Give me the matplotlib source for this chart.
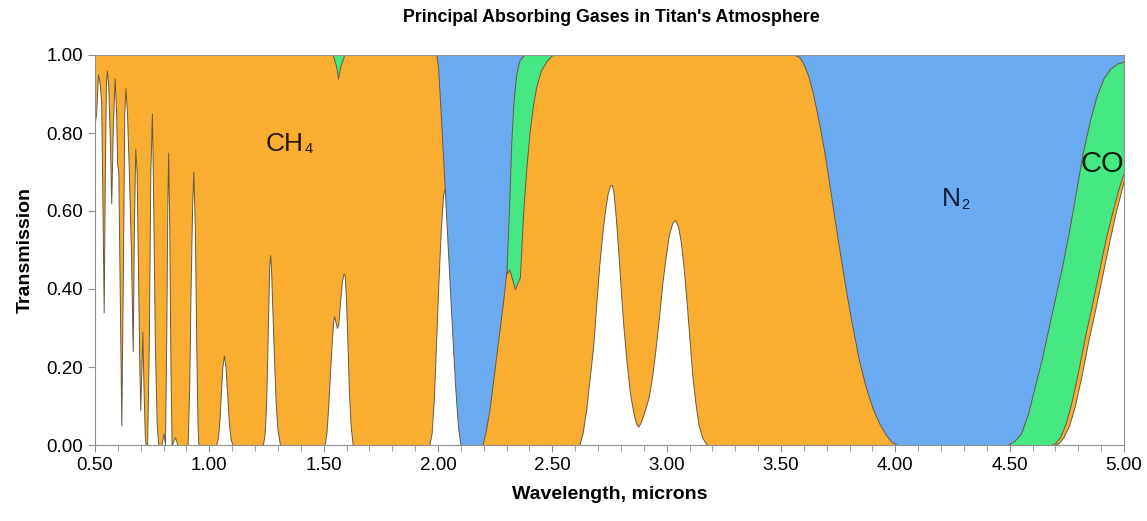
import matplotlib
matplotlib.use('Agg')
import matplotlib.pyplot as plt
from matplotlib.ticker import MultipleLocator, FormatStrFormatter

plt.rcParams['font.family'] = ['Liberation Sans', 'DejaVu Sans']

# CH4 transmission (wavelength in microns, transmission)
ch4_wl = [0.500, 0.505, 0.513, 0.520, 0.527, 0.533, 0.538, 0.543, 0.548, 0.552,
          0.558, 0.565, 0.571, 0.578, 0.586, 0.592, 0.597, 0.602, 0.608, 0.615,
          0.622, 0.628, 0.633, 0.640, 0.648, 0.657, 0.665, 0.670, 0.676, 0.682,
          0.688, 0.694, 0.698, 0.703, 0.707, 0.712, 0.718, 0.722, 0.728, 0.735,
          0.742, 0.749, 0.755, 0.762, 0.770, 0.777, 0.790, 0.800, 0.806, 0.812,
          0.816, 0.820, 0.825, 0.830, 0.835, 0.850, 0.860, 0.905, 0.912, 0.918,
          0.925, 0.930, 0.937, 0.943, 0.948, 0.952,
          1.030, 1.038, 1.045, 1.051, 1.057, 1.064, 1.071, 1.078, 1.085, 1.093,
          1.102,
          1.234, 1.242, 1.248, 1.253, 1.258, 1.262, 1.266, 1.270, 1.276, 1.283,
          1.290, 1.298, 1.309,
          1.504, 1.512, 1.520, 1.528, 1.536, 1.542, 1.546, 1.552, 1.558, 1.564,
          1.572, 1.580, 1.587, 1.592, 1.598, 1.604, 1.611, 1.618, 1.627,
          1.962, 1.972, 1.982, 1.992, 2.002, 2.012, 2.022, 2.030, 2.060, 2.120,
          2.618, 2.632, 2.648, 2.663, 2.679, 2.692, 2.705, 2.718, 2.730, 2.742,
          2.752, 2.760, 2.768, 2.778, 2.788, 2.798, 2.810, 2.825, 2.840, 2.854,
          2.866, 2.876, 2.888, 2.905, 2.920, 2.935, 2.950, 2.965, 2.980, 2.995,
          3.010, 3.025, 3.037, 3.050, 3.062, 3.075, 3.088, 3.100, 3.112, 3.125,
          3.140, 3.155, 3.175,
          4.695, 4.715, 4.735, 4.760, 4.785, 4.815, 4.845, 4.875, 4.905, 4.935,
          4.965, 4.985, 5.000]
ch4_tr = [0.83, 0.85, 0.95, 0.93, 0.88, 0.60, 0.34, 0.70, 0.93, 0.96,
          0.92, 0.78, 0.62, 0.82, 0.94, 0.86, 0.72, 0.70, 0.40, 0.05,
          0.45, 0.85, 0.915, 0.85, 0.70, 0.50, 0.24, 0.55, 0.76, 0.70,
          0.45, 0.20, 0.09, 0.20, 0.29, 0.15, 0.02, 0.00, 0.00, 0.25,
          0.70, 0.85, 0.60, 0.25, 0.05, 0.00, 0.00, 0.03, 0.00, 0.30,
          0.60, 0.75, 0.55, 0.20, 0.00, 0.02, 0.00, 0.00, 0.15, 0.40,
          0.62, 0.70, 0.55, 0.25, 0.06, 0.00,
          0.00, 0.02, 0.07, 0.14, 0.20, 0.23, 0.20, 0.13, 0.06, 0.015,
          0.00,
          0.00, 0.03, 0.10, 0.22, 0.36, 0.46, 0.487, 0.45, 0.34, 0.22,
          0.11, 0.04, 0.00,
          0.00, 0.03, 0.10, 0.19, 0.27, 0.32, 0.33, 0.315, 0.30, 0.31,
          0.37, 0.42, 0.44, 0.435, 0.37, 0.26, 0.13, 0.05, 0.00,
          0.00, 0.03, 0.12, 0.27, 0.42, 0.55, 0.64, 0.66, 0.55, 0.00,
          0.00, 0.03, 0.09, 0.17, 0.256, 0.36, 0.46, 0.54, 0.60, 0.645,
          0.665, 0.667, 0.645, 0.58, 0.50, 0.41, 0.31, 0.21, 0.13, 0.085,
          0.055, 0.047, 0.06, 0.09, 0.12, 0.17, 0.24, 0.32, 0.41, 0.48,
          0.54, 0.57, 0.577, 0.56, 0.52, 0.45, 0.36, 0.27, 0.18, 0.11,
          0.05, 0.02, 0.00,
          0.00, 0.005, 0.02, 0.05, 0.10, 0.18, 0.27, 0.35, 0.435, 0.52,
          0.60, 0.645, 0.68]

# N2 transmission
n2_wl = [0.500, 1.993, 2.000, 2.010, 2.020, 2.030, 2.045, 2.060, 2.075, 2.087,
         2.098, 2.195, 2.210, 2.225, 2.240, 2.255, 2.270, 2.285, 2.300, 2.310,
         2.320, 2.330, 2.342, 2.355, 2.375,
         3.560, 3.580, 3.600, 3.620, 3.640, 3.660, 3.690, 3.720, 3.750, 3.780,
         3.810, 3.840, 3.870, 3.900, 3.930, 3.960, 3.985, 4.010,
         4.490, 4.520, 4.550, 4.580, 4.610, 4.640, 4.670, 4.700, 4.730, 4.760,
         4.790, 4.820, 4.850, 4.880, 4.910, 4.940, 4.970, 5.000]
n2_tr = [1.00, 1.00, 0.97, 0.87, 0.76, 0.65, 0.48, 0.31, 0.15, 0.05,
         0.00, 0.00, 0.04, 0.09, 0.16, 0.23, 0.30, 0.37, 0.45, 0.60,
         0.77, 0.88, 0.95, 0.985, 1.00,
         1.00, 0.995, 0.975, 0.945, 0.90, 0.845, 0.75, 0.635, 0.52, 0.41,
         0.31, 0.22, 0.15, 0.095, 0.055, 0.025, 0.007, 0.00,
         0.00, 0.01, 0.03, 0.08, 0.15, 0.22, 0.30, 0.38, 0.46, 0.55,
         0.65, 0.75, 0.83, 0.895, 0.94, 0.965, 0.978, 0.983]

# CO transmission
co_wl = [0.500, 1.540, 1.555, 1.563, 1.572, 1.590, 2.250, 2.280, 2.295, 2.300,
         2.312, 2.336, 2.358, 2.365, 2.373, 2.385, 2.400, 2.415, 2.430, 2.450,
         2.475, 2.500, 4.050, 4.450,
         4.680, 4.700, 4.720, 4.745, 4.770, 4.800, 4.830, 4.860, 4.890, 4.920,
         4.950, 4.975, 5.000]
co_tr = [1.00, 1.00, 0.97, 0.94, 0.97, 1.00, 1.00, 0.80, 0.50, 0.44,
         0.45, 0.40, 0.43, 0.51, 0.60, 0.70, 0.80, 0.87, 0.92, 0.96,
         0.985, 1.00, 1.00, 0.00,
         0.00, 0.005, 0.02, 0.055, 0.11, 0.19, 0.28, 0.36, 0.445, 0.53,
         0.60, 0.655, 0.70]

fig = plt.figure(figsize=(11.47, 5.21), dpi=100)
ax = fig.add_axes([95 / 1147, 1 - 445 / 521, 1029 / 1147, 390 / 521])

edge = '#665a44'
ax.fill_between(ch4_wl, ch4_tr, 1, facecolor='#F9AE32', edgecolor=edge, linewidth=0.7, zorder=1)
ax.fill_between(co_wl, co_tr, 1, facecolor='#45E883', edgecolor=edge, linewidth=0.7, zorder=2)
ax.fill_between(n2_wl, n2_tr, 1, facecolor='#6AABF2', edgecolor=edge, linewidth=0.7, zorder=3)

ax.set_xlim(0.5, 5.0)
ax.set_ylim(0, 1.0)
ax.xaxis.set_major_locator(MultipleLocator(0.5))
ax.xaxis.set_minor_locator(MultipleLocator(0.1))
ax.yaxis.set_major_locator(MultipleLocator(0.2))
ax.xaxis.set_major_formatter(FormatStrFormatter('%.2f'))
ax.yaxis.set_major_formatter(FormatStrFormatter('%.2f'))
ax.tick_params(axis='both', which='both', direction='out', color='#909090', labelsize=13.5)
ax.tick_params(axis='both', which='major', length=5)
ax.tick_params(axis='x', which='minor', length=4)
for s in ax.spines.values():
    s.set_color('#909090')
    s.set_zorder(5)

ax.text(1.329, 0.772, 'CH', fontsize=19, color='#24160a', ha='center', va='center', zorder=6)
ax.text(1.434, 0.758, '4', fontsize=10.5, color='#24160a', ha='center', va='center', zorder=6)
ax.text(4.245, 0.63, 'N', fontsize=19, color='#101c38', ha='center', va='center', zorder=6)
ax.text(4.305, 0.615, '2', fontsize=10.5, color='#101c38', ha='center', va='center', zorder=6)
ax.text(4.905, 0.72, 'CO', fontsize=21, color='#0a200e', ha='center', va='center', zorder=6)

ax.set_xlabel('Wavelength, microns', fontsize=14, fontweight='bold', labelpad=9)
ax.set_ylabel('Transmission', fontsize=14, fontweight='bold', labelpad=9)
fig.text(611 / 1147, 1 - 18 / 521, "Principal Absorbing Gases in Titan's Atmosphere",
         fontsize=12.8, fontweight='bold', ha='center', va='center')

fig.savefig('out.png', dpi=100)
